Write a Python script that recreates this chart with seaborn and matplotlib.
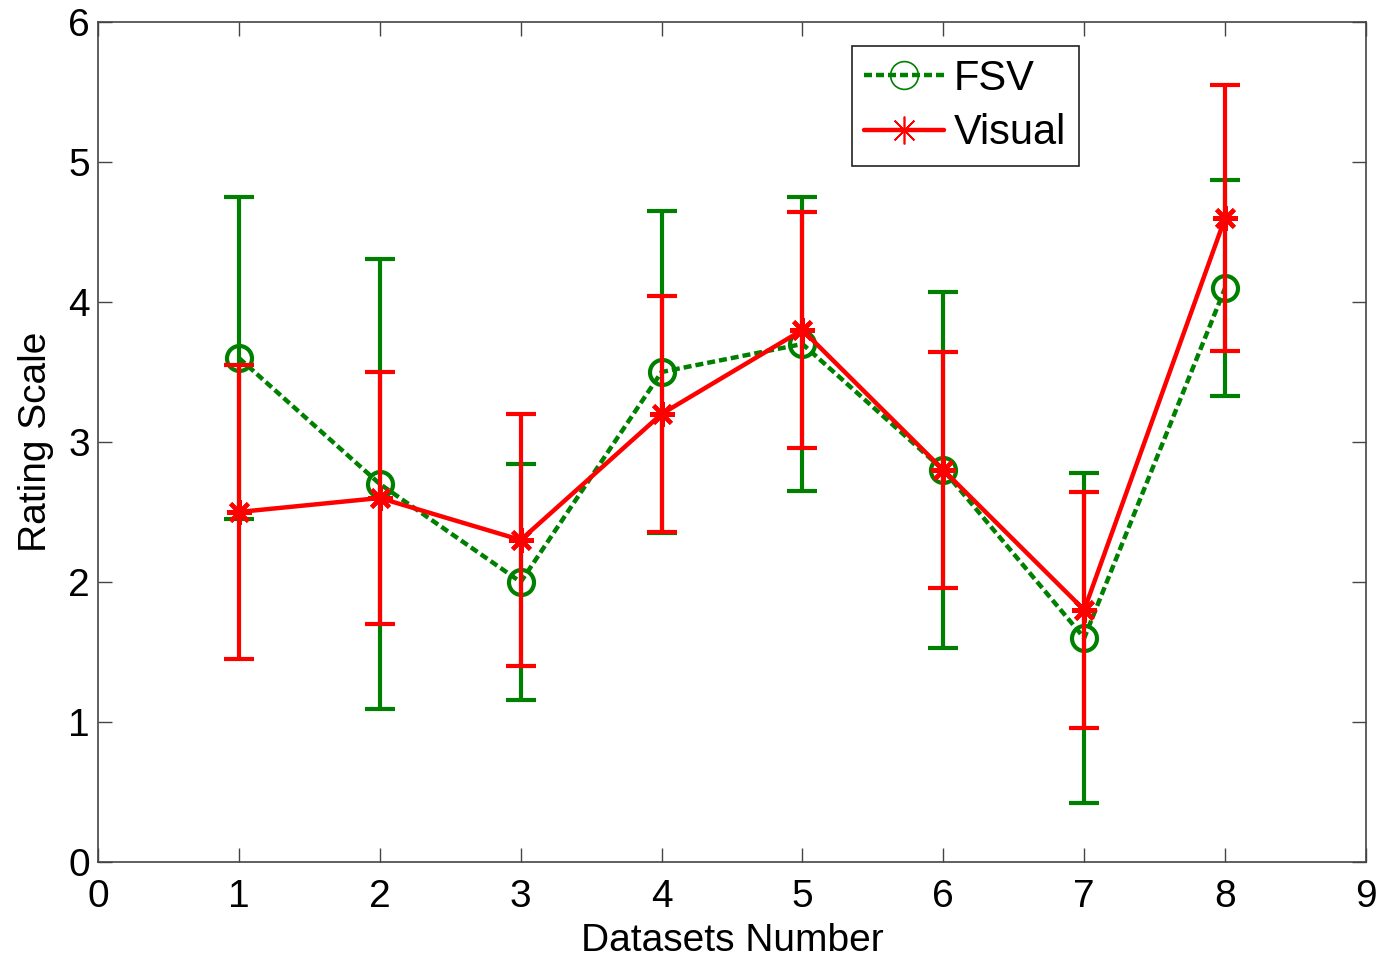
import numpy as np
import pandas as pd
import matplotlib
matplotlib.use("Agg")
import matplotlib.pyplot as plt
from matplotlib.lines import Line2D
import seaborn as sns

datasets = [1, 2, 3, 4, 5, 6, 7, 8]
fsv_mean = [3.6, 2.7, 2.0, 3.5, 3.7, 2.8, 1.6, 4.1]
fsv_err = [1.15, 1.61, 0.84, 1.15, 1.05, 1.27, 1.18, 0.77]
visual_mean = [2.5, 2.6, 2.3, 3.2, 3.8, 2.8, 1.8, 4.6]
visual_err = [1.05, 0.9, 0.9, 0.84, 0.84, 0.84, 0.84, 0.95]

sns.set_style("ticks")
plt.rcParams['font.family'] = ['Liberation Sans', 'DejaVu Sans']
plt.rcParams['text.color'] = 'black'
plt.rcParams['axes.labelcolor'] = 'black'
plt.rcParams['xtick.color'] = '#444444'
plt.rcParams['ytick.color'] = '#444444'
plt.rcParams['xtick.labelcolor'] = 'black'
plt.rcParams['ytick.labelcolor'] = 'black'

fig = plt.figure(figsize=(13.77, 9.57), dpi=100)
ax = fig.add_axes([0.0712, 0.0993, 0.9208, 0.8777])

green = "#008000"
red = "#ff0000"
fsv_ls = (0, (1.8, 0.9))

df = pd.DataFrame({"x": datasets + datasets,
                   "y": fsv_mean + visual_mean,
                   "series": ["FSV"] * 8 + ["Visual"] * 8})

ax.errorbar(datasets, fsv_mean, yerr=fsv_err, fmt="none", ecolor=green,
            elinewidth=3, capsize=11, capthick=3, zorder=2)
sns.lineplot(data=df[df.series == "FSV"], x="x", y="y", ax=ax, color=green,
             linestyle=fsv_ls, linewidth=3.2, marker="o", markersize=18,
             markerfacecolor="none", markeredgecolor=green, markeredgewidth=3,
             legend=False, zorder=3)
ax.errorbar(datasets, visual_mean, yerr=visual_err, fmt="none", ecolor=red,
            elinewidth=3, capsize=11, capthick=3, zorder=4)
sns.lineplot(data=df[df.series == "Visual"], x="x", y="y", ax=ax, color=red,
             linestyle="-", linewidth=3.2, marker=(8, 2, 0), markersize=18,
             markeredgecolor=red, markeredgewidth=3, legend=False, zorder=5)

ax.set_xlim(0, 9)
ax.set_ylim(0, 6)
ax.set_xticks(range(0, 10))
ax.set_yticks(range(0, 7))
ax.tick_params(direction="in", length=10, width=1, labelsize=28, top=True, right=True)
ax.tick_params(axis="x", pad=12)
ax.tick_params(axis="y", pad=6)
for s in ax.spines.values():
    s.set_color("#444444")
    s.set_linewidth(1.2)
ax.set_xlabel("Datasets Number", fontsize=28, labelpad=6)
ax.set_ylabel("Rating Scale", fontsize=28, labelpad=10)

handles = [
    Line2D([], [], color=green, linestyle=fsv_ls, linewidth=3.2, marker="o",
           markersize=20, markerfacecolor="none", markeredgewidth=1.2),
    Line2D([], [], color=red, linestyle="-", linewidth=3.2, marker=(8, 2, 0),
           markersize=20, markeredgewidth=1.2),
]
leg = ax.legend(handles, ["FSV", "Visual"], loc="upper left",
                bbox_to_anchor=(0.5946, 0.971), borderaxespad=0, fontsize=30,
                frameon=True, fancybox=False, edgecolor="#222222", framealpha=1,
                handlelength=1.9, handletextpad=0.25, borderpad=0.3, labelspacing=0.35)
leg.get_frame().set_linewidth(1.2)

fig.savefig("out.png", dpi=100)
